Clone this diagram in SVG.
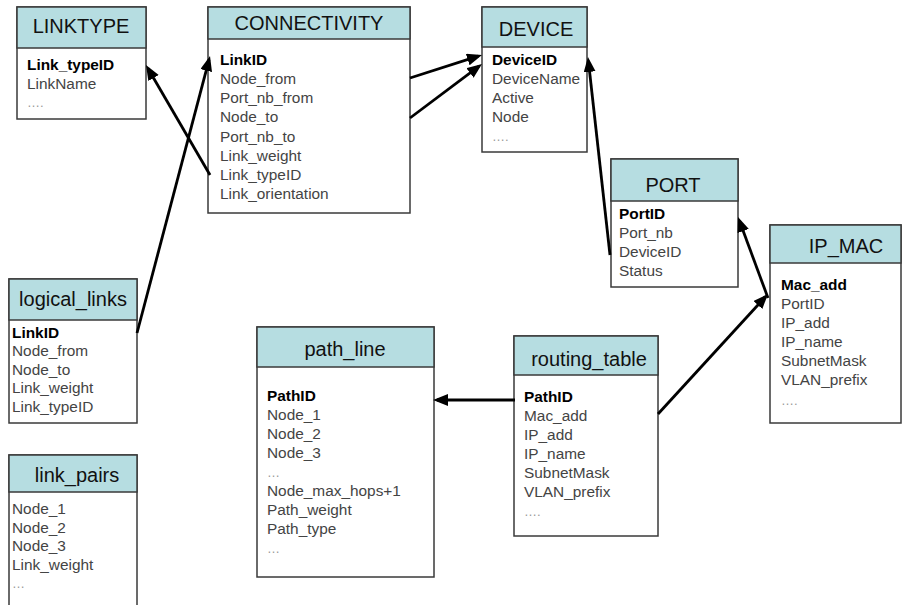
<svg xmlns="http://www.w3.org/2000/svg" width="902" height="605" viewBox="0 0 902 605">
<defs>
<style>
.box{fill:#ffffff;stroke:#3a3a3a;stroke-width:1.5}
.hdr{fill:#b6dde1;stroke:#3a3a3a;stroke-width:1.5}
.title{font-family:"Liberation Sans",Arial,sans-serif;font-size:20px;fill:#111;text-anchor:middle}
.f{font-family:"Liberation Sans",Arial,sans-serif;font-size:15.4px;fill:#444}
.k{font-family:"Liberation Sans",Arial,sans-serif;font-size:15.4px;fill:#000;font-weight:bold}
.d{font-family:"Liberation Sans",Arial,sans-serif;font-size:13px;fill:#999}
.c{stroke:#000;stroke-width:2.8;fill:none;marker-end:url(#ah)}
</style>
<marker id="ah" markerUnits="userSpaceOnUse" markerWidth="17" markerHeight="13" refX="11" refY="6" orient="auto">
<path d="M0,0 L15,6 L0,12 z" fill="#000"/>
</marker>
</defs>
<rect width="902" height="605" fill="#ffffff"/>

<g id="linktype">
<rect class="box" x="17" y="7" width="129" height="112"/>
<rect class="hdr" x="17" y="7" width="129" height="41"/>
<text class="title" x="81" y="33">LINKTYPE</text>
<text class="k" x="27" y="70">Link_typeID</text>
<text class="f" x="27" y="89">LinkName</text>
<text class="d" x="27" y="107">….</text>
</g>

<g id="connectivity">
<rect class="box" x="208" y="7" width="202" height="206"/>
<rect class="hdr" x="208" y="7" width="202" height="32"/>
<text class="title" x="309" y="30">CONNECTIVITY</text>
<text class="k" x="220" y="65">LinkID</text>
<text class="f" x="220" y="84">Node_from</text>
<text class="f" x="220" y="103">Port_nb_from</text>
<text class="f" x="220" y="122">Node_to</text>
<text class="f" x="220" y="141.5">Port_nb_to</text>
<text class="f" x="220" y="160.5">Link_weight</text>
<text class="f" x="220" y="180">Link_typeID</text>
<text class="f" x="220" y="199">Link_orientation</text>
</g>

<g id="device">
<rect class="box" x="482" y="7" width="105" height="145"/>
<rect class="hdr" x="482" y="7" width="105" height="40"/>
<text class="title" x="536" y="36">DEVICE</text>
<text class="k" x="492" y="65">DeviceID</text>
<text class="f" x="492" y="84">DeviceName</text>
<text class="f" x="492" y="103">Active</text>
<text class="f" x="492" y="122">Node</text>
<text class="d" x="492" y="141">….</text>
</g>

<g id="port">
<rect class="box" x="611" y="159" width="127" height="128"/>
<rect class="hdr" x="611" y="159" width="127" height="42"/>
<text class="title" x="673" y="192">PORT</text>
<text class="k" x="619" y="219">PortID</text>
<text class="f" x="619" y="238">Port_nb</text>
<text class="f" x="619" y="257">DeviceID</text>
<text class="f" x="619" y="276">Status</text>
</g>

<g id="ip_mac">
<rect class="box" x="770" y="225" width="131" height="198"/>
<rect class="hdr" x="770" y="225" width="131" height="38"/>
<text class="title" x="846" y="253">IP_MAC</text>
<text class="k" x="781" y="290">Mac_add</text>
<text class="f" x="781" y="309">PortID</text>
<text class="f" x="781" y="328">IP_add</text>
<text class="f" x="781" y="347">IP_name</text>
<text class="f" x="781" y="366">SubnetMask</text>
<text class="f" x="781" y="385">VLAN_prefix</text>
<text class="d" x="781" y="405">….</text>
</g>

<g id="logical_links">
<rect class="box" x="9" y="279" width="128" height="144"/>
<rect class="hdr" x="9" y="279" width="128" height="41"/>
<text class="title" x="73" y="306">logical_links</text>
<text class="k" x="12" y="337.5">LinkID</text>
<text class="f" x="12" y="356">Node_from</text>
<text class="f" x="12" y="374.5">Node_to</text>
<text class="f" x="12" y="393">Link_weight</text>
<text class="f" x="12" y="411.5">Link_typeID</text>
</g>

<g id="link_pairs">
<rect class="box" x="9" y="455" width="128" height="160"/>
<rect class="hdr" x="9" y="455" width="128" height="37"/>
<text class="title" x="77" y="482">link_pairs</text>
<text class="f" x="12" y="514">Node_1</text>
<text class="f" x="12" y="532.5">Node_2</text>
<text class="f" x="12" y="551">Node_3</text>
<text class="f" x="12" y="569.5">Link_weight</text>
<text class="d" x="12" y="588">…</text>
</g>

<g id="path_line">
<rect class="box" x="257" y="327" width="177" height="250"/>
<rect class="hdr" x="257" y="327" width="177" height="40"/>
<text class="title" x="345" y="356">path_line</text>
<text class="k" x="267" y="401">PathID</text>
<text class="f" x="267" y="420">Node_1</text>
<text class="f" x="267" y="439">Node_2</text>
<text class="f" x="267" y="458">Node_3</text>
<text class="d" x="267" y="477">…</text>
<text class="f" x="267" y="496">Node_max_hops+1</text>
<text class="f" x="267" y="515">Path_weight</text>
<text class="f" x="267" y="534">Path_type</text>
<text class="d" x="267" y="553">…</text>
</g>

<g id="routing_table">
<rect class="box" x="514" y="336" width="144" height="200"/>
<rect class="hdr" x="514" y="336" width="144" height="39"/>
<text class="title" x="589" y="366">routing_table</text>
<text class="k" x="524" y="402">PathID</text>
<text class="f" x="524" y="421">Mac_add</text>
<text class="f" x="524" y="440">IP_add</text>
<text class="f" x="524" y="459">IP_name</text>
<text class="f" x="524" y="478">SubnetMask</text>
<text class="f" x="524" y="497">VLAN_prefix</text>
<text class="d" x="524" y="516">….</text>
</g>

<g id="connectors">
<line class="c" x1="137" y1="333" x2="209" y2="59.9"/>
<line class="c" x1="210" y1="175" x2="148" y2="68.5"/>
<line class="c" x1="410" y1="78" x2="478.2" y2="56.2"/>
<line class="c" x1="410" y1="118" x2="478.8" y2="66.4"/>
<line class="c" x1="610" y1="255" x2="588.4" y2="61"/>
<line class="c" x1="768" y1="298" x2="739.4" y2="220.7"/>
<line class="c" x1="658" y1="414" x2="765.3" y2="296.9"/>
<line class="c" x1="515" y1="400" x2="437" y2="400"/>
</g>
</svg>
